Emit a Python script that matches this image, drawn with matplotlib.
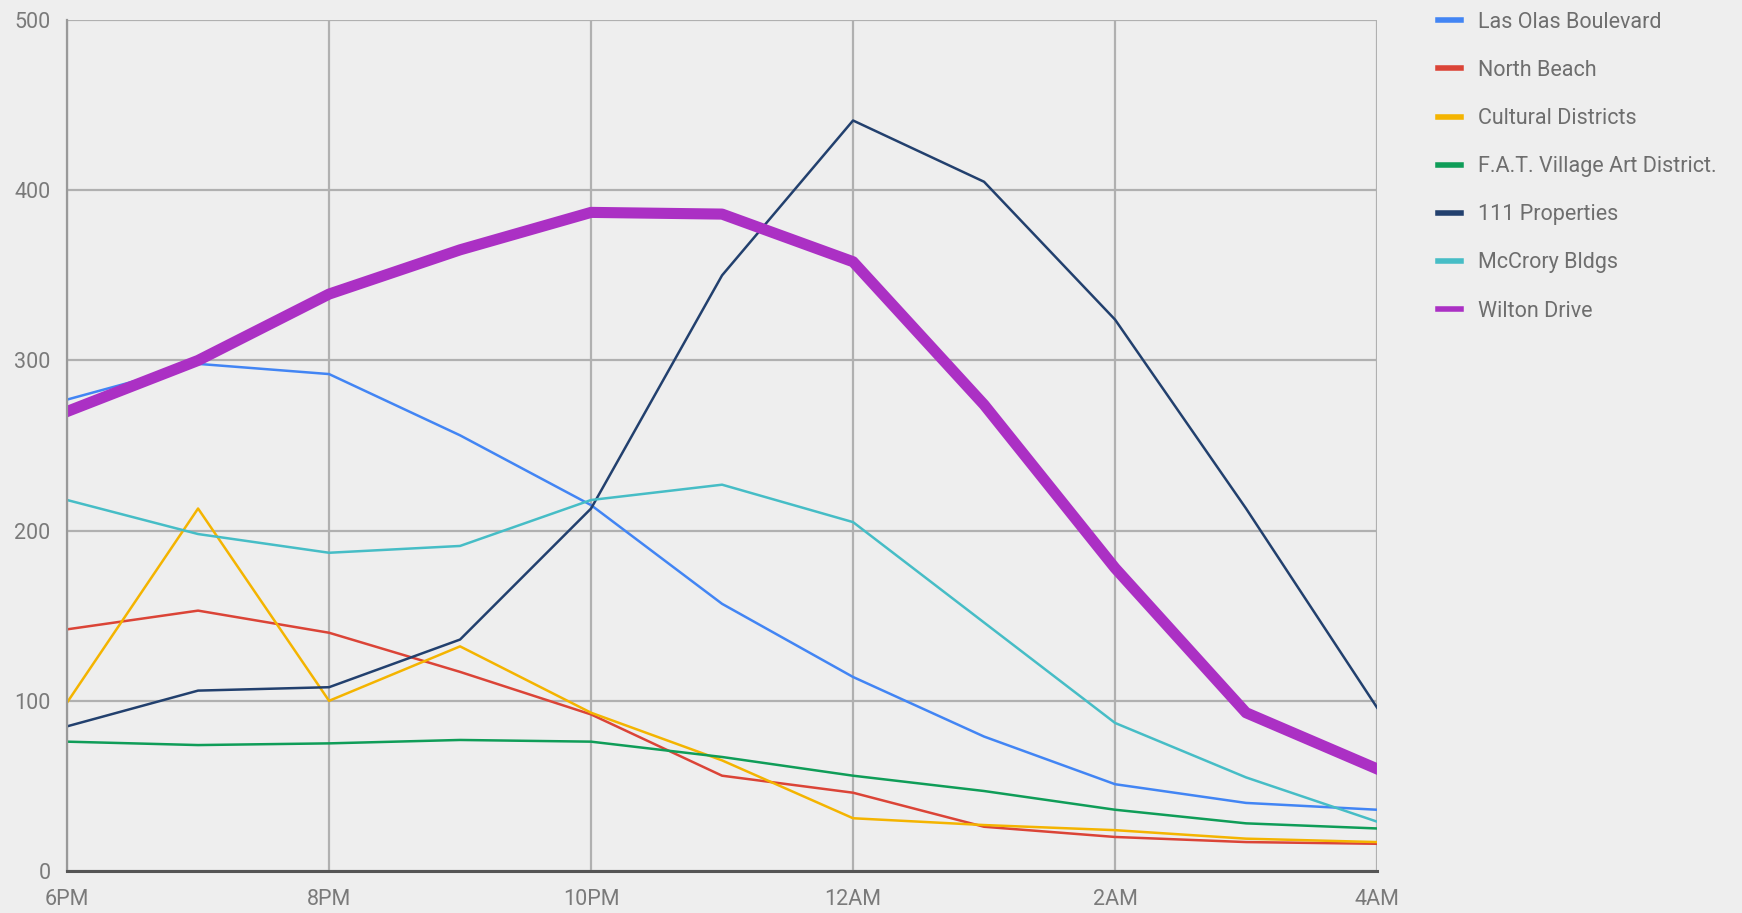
import matplotlib.pyplot as plt

plt.rcParams['font.family'] = ['Roboto', 'DejaVu Sans']

# hours from 6PM to 4AM
hours = list(range(11))
tick_pos = [0, 2, 4, 6, 8, 10]
tick_labels = ['6PM', '8PM', '10PM', '12AM', '2AM', '4AM']

las_olas = [277, 298, 292, 256, 215, 157, 114, 79, 51, 40, 36]
north_beach = [142, 153, 140, 117, 92, 56, 46, 26, 20, 17, 16]
cultural = [99, 213, 100, 132, 93, 65, 31, 27, 24, 19, 17]
fat_village = [76, 74, 75, 77, 76, 67, 56, 47, 36, 28, 25]
props_111 = [85, 106, 108, 136, 213, 350, 441, 405, 324, 213, 96]
mccrory = [218, 198, 187, 191, 218, 227, 205, 146, 87, 55, 29]
wilton = [270, 300, 339, 365, 387, 386, 358, 274, 178, 93, 60]

series = [
    ('Las Olas Boulevard', las_olas, '#4285f4', 1.8),
    ('North Beach', north_beach, '#db4437', 1.8),
    ('Cultural Districts', cultural, '#f4b400', 1.8),
    ('F.A.T. Village Art District.', fat_village, '#0f9d58', 1.8),
    ('111 Properties', props_111, '#22406e', 1.8),
    ('McCrory Bldgs', mccrory, '#46bdc6', 1.8),
    ('Wilton Drive', wilton, '#ab30c4', 8),
]

bg = '#eeeeee'
fig = plt.figure(figsize=(17.42, 9.13), dpi=100, facecolor=bg)
ax = fig.add_axes([0.0385, 0.046, 0.752, 0.932], facecolor=bg)

for name, vals, col, lw in series:
    ax.plot(hours, vals, color=col, lw=lw, label=name, solid_joinstyle='round')

ax.set_xlim(0, 10)
ax.set_ylim(0, 500)
ax.set_xticks(tick_pos)
ax.set_xticklabels(tick_labels)
ax.set_yticks([0, 100, 200, 300, 400, 500])
ax.grid(True, color='#b0b0b0', lw=1.6)
ax.set_axisbelow(True)
ax.tick_params(length=0, labelsize=15.5, colors='#7a7a7a', pad=12)
ax.tick_params(axis='x', pad=13)
for s in ['top', 'right']:
    ax.spines[s].set_visible(False)
ax.spines['left'].set_color('#999999')
ax.spines['left'].set_linewidth(1.6)
ax.spines['bottom'].set_color('#555555')
ax.spines['bottom'].set_linewidth(2.2)

leg = fig.legend(loc='upper left', bbox_to_anchor=(0.8204, 0.9965), frameon=False,
                 fontsize=15.5, handlelength=1.1, handletextpad=0.75,
                 labelspacing=1.26, borderaxespad=0)
for h in leg.legend_handles:
    h.set_linewidth(4)
for t in leg.get_texts():
    t.set_color('#6e6e6e')

plt.savefig('out.png', dpi=100, facecolor=bg)
